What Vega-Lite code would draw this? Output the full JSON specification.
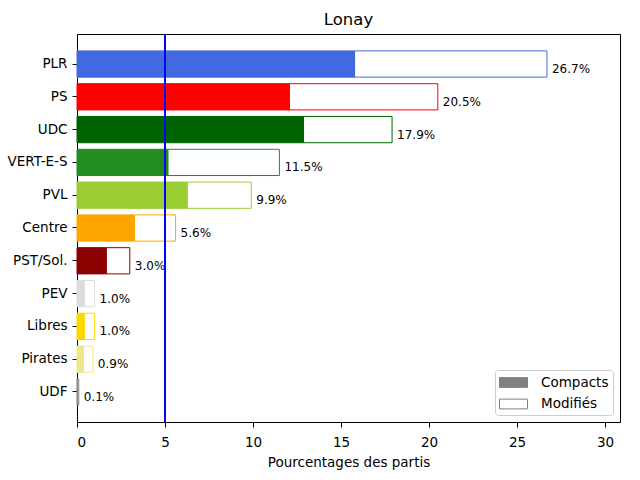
{
  "$schema": "https://vega.github.io/schema/vega-lite/v6.json",
  "width": 543,
  "height": 388,
  "autosize": {"type": "none"},
  "padding": {"left": 77, "top": 34, "right": 20, "bottom": 58},
  "title": {"text": "Lonay", "fontSize": 16.5, "fontWeight": "normal", "font": "DejaVu Sans", "color": "black", "offset": 5},
  "datasets": {
    "partis": [
      {"parti": "PLR", "compacts": 15.8, "total": 26.7},
      {"parti": "PS", "compacts": 12.1, "total": 20.5},
      {"parti": "UDC", "compacts": 12.9, "total": 17.9},
      {"parti": "VERT-E-S", "compacts": 5.2, "total": 11.5},
      {"parti": "PVL", "compacts": 6.3, "total": 9.9},
      {"parti": "Centre", "compacts": 3.3, "total": 5.6},
      {"parti": "PST/Sol.", "compacts": 1.7, "total": 3.0},
      {"parti": "PEV", "compacts": 0.45, "total": 1.0},
      {"parti": "Libres", "compacts": 0.45, "total": 1.0},
      {"parti": "Pirates", "compacts": 0.4, "total": 0.9},
      {"parti": "UDF", "compacts": 0.05, "total": 0.1}
    ],
    "legende": [
      {"type": "Compacts"},
      {"type": "Modifiés"}
    ]
  },
  "data": {"name": "partis"},
  "encoding": {
    "y": {
      "field": "parti",
      "type": "nominal",
      "sort": null,
      "title": null,
      "scale": {"paddingInner": 0.2, "paddingOuter": 0.515},
      "axis": {"labelFontSize": 13.5, "tickSize": 5, "labelPadding": 5}
    }
  },
  "layer": [
    {
      "mark": {"type": "bar", "filled": false, "fill": "white", "strokeWidth": 1},
      "encoding": {
        "x": {
          "field": "total",
          "type": "quantitative",
          "title": "Pourcentages des partis",
          "scale": {"domain": [0, 30.85], "nice": false, "zero": true},
          "axis": {"values": [0, 5, 10, 15, 20, 25, 30], "labelFontSize": 13.5, "titleFontSize": 13.5, "tickSize": 5, "labelPadding": 8, "titlePadding": 7}
        },
        "color": {"field": "parti", "type": "nominal", "scale": {"domain": ["PLR", "PS", "UDC", "VERT-E-S", "PVL", "Centre", "PST/Sol.", "PEV", "Libres", "Pirates", "UDF"], "range": ["#4169E1", "#FF0000", "#006400", "#228B22", "#9ACD32", "#FFA500", "#8B0000", "#DCDCDC", "#FFD700", "#F0E68C", "#808080"]}, "legend": null}
      }
    },
    {
      "mark": {"type": "bar", "filled": true},
      "encoding": {
        "x": {"field": "compacts", "type": "quantitative"},
        "color": {"field": "parti", "type": "nominal", "legend": null}
      }
    },
    {
      "transform": [{"calculate": "format(datum.total, '.1f') + '%'", "as": "etiquette"}],
      "mark": {"type": "text", "align": "left", "baseline": "middle", "dx": 5, "dy": 5, "fontSize": 12, "font": "DejaVu Sans", "color": "black"},
      "encoding": {
        "x": {"field": "total", "type": "quantitative"},
        "text": {"field": "etiquette"}
      }
    },
    {
      "mark": {"type": "rule", "color": "#0000FF", "strokeWidth": 1.8},
      "encoding": {"x": {"datum": 5}, "y": {}}
    },
    {
      "data": {"name": "legende"},
      "transform": [{"filter": "false"}],
      "mark": {"type": "bar"},
      "encoding": {
        "y": {},
        "fill": {"field": "type", "type": "nominal", "scale": {"domain": ["Compacts", "Modifiés"], "range": ["#808080", "white"]}, "legend": {"title": null}},
        "stroke": {"field": "type", "type": "nominal", "scale": {"domain": ["Compacts", "Modifiés"], "range": ["#808080", "#808080"]}, "legend": {"title": null}}
      }
    }
  ],
  "config": {
    "font": "DejaVu Sans",
    "view": {"stroke": "black", "strokeWidth": 1},
    "axis": {"grid": false, "domainColor": "black", "tickColor": "black", "labelColor": "black", "titleColor": "black", "titleFontWeight": "normal", "labelFont": "DejaVu Sans", "titleFont": "DejaVu Sans"},
    "legend": {
      "orient": "bottom-right",
      "offset": 7,
      "padding": 4,
      "strokeColor": "#cccccc",
      "fillColor": "white",
      "cornerRadius": 3,
      "labelFontSize": 13.5,
      "labelFont": "DejaVu Sans",
      "labelColor": "black",
      "labelOffset": 19,
      "symbolOffset": 6,
      "rowPadding": 5.5,
      "symbolType": "M-1.75,-0.61H1.75V0.61H-1.75Z",
      "symbolSize": 256,
      "symbolStrokeWidth": 1
    }
  }
}
